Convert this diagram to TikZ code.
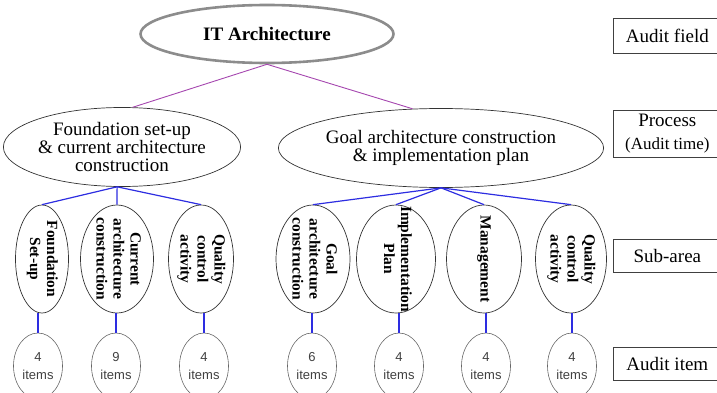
\documentclass[tikz,border=0pt]{standalone}
\usepackage{fontspec}
\setmainfont{Liberation Serif}
\newfontfamily\itemfont{Liberation Sans}
\usepackage{graphicx}
\usetikzlibrary{shapes.geometric}

\definecolor{linkpurple}{RGB}{165,70,175}
\definecolor{linkblue}{RGB}{45,45,225}

% rotated bold text for the sub-area ellipses
\newcommand{\vtext}[1]{\rotatebox{-90}{\fontsize{15.5}{17}\selectfont\bfseries
  \begin{tabular}{@{}c@{}}#1\end{tabular}}}

\tikzset{
  field/.style={ellipse, draw=black!45, line width=2.6pt, minimum width=253pt,
    minimum height=58pt, inner sep=0pt, font=\fontsize{19}{20}\selectfont\bfseries},
  process/.style={ellipse, draw=black!80, line width=0.7pt, minimum height=79pt,
    inner sep=0pt, align=center, font=\fontsize{19}{18}\selectfont},
  subarea/.style={ellipse, draw=black!80, line width=0.7pt, minimum height=108pt,
    inner sep=0pt},
  itembox/.style={ellipse, draw=black!60, line width=0.6pt, minimum width=49pt,
    minimum height=66pt, inner sep=0pt, align=center, text=black!75,
    font=\itemfont\fontsize{13}{17.5}\selectfont},
  legend/.style={draw=black!75, line width=0.7pt, minimum width=108pt, anchor=west,
    align=center, inner sep=0pt, font=\fontsize{19}{20}\selectfont},
  toplink/.style={linkpurple, line width=0.9pt},
  sublink/.style={linkblue, line width=1.2pt},
}

\begin{document}
\begin{tikzpicture}[x=1pt,y=-1pt]
  \useasboundingbox (0,0) rectangle (717,393);

  % audit field and processes
  \node[field] (it) at (267,34) {IT Architecture};
  \node[process, minimum width=230pt] (found) at (122,147)
    {Foundation set-up\\\& current architecture\\construction};
  \node[process, minimum width=307pt] (goal) at (441,148)
    {Goal architecture construction\\\& implementation plan};

  % sub-areas
  \node[subarea, minimum width=53pt, label={center:\vtext{Foundation\\Set-up}}] (fsetup) at (42,259) {};
  \node[subarea, minimum width=73pt, label={center:\vtext{Current\\architecture\\construction}}] (curarch) at (117,259) {};
  \node[subarea, minimum width=65pt, label={center:\vtext{Quality\\control\\activity}}] (qcfound) at (201,259) {};
  \node[subarea, minimum width=74pt, label={center:\vtext{Goal\\architecture\\construction}}] (goalarch) at (313,259) {};
  \node[subarea, minimum width=79pt, label={center:\vtext{Implementation\\Plan}}] (implan) at (396,259) {};
  \node[subarea, minimum width=75pt, label={center:\vtext{Management}}] (mgmt) at (484,259) {};
  \node[subarea, minimum width=71pt, label={center:\vtext{Quality\\control\\activity}}] (qcgoal) at (571,259) {};

  % audit items
  \node[itembox] (fsetupitems) at (38,366) {4\\items};
  \node[itembox] (curarchitems) at (116,366) {9\\items};
  \node[itembox] (qcfounditems) at (204,366) {4\\items};
  \node[itembox] (goalarchitems) at (312,366) {6\\items};
  \node[itembox] (implanitems) at (399,366) {4\\items};
  \node[itembox] (mgmtitems) at (486,366) {4\\items};
  \node[itembox] (qcgoalitems) at (572,366) {4\\items};

  % legend on the right
  \node[legend, minimum height=35pt] (lfield) at (613,35.5) {Audit field};
  \node[legend, minimum height=47pt] (lprocess) at (613,133.5)
    {Process\\[3pt]{\fontsize{17}{18}\selectfont(Audit time)}};
  \node[legend, minimum height=33pt] (lsubarea) at (613,255.5) {Sub-area};
  \node[legend, minimum height=33pt] (litem) at (613,363.5) {Audit item};

  % links
  \draw[toplink] (it.south) -- (found.75);
  \draw[toplink] (it.south) -- (goal.126);

  \draw[sublink] (found.-97) -- (fsetup.north);
  \draw[sublink] (found.-97) -- (curarch.north);
  \draw[sublink] (found.-97) -- (qcfound.north);
  \draw[sublink] (goal.south) -- (goalarch.north);
  \draw[sublink] (goal.south) -- (implan.north);
  \draw[sublink] (goal.south) -- (mgmt.north);
  \draw[sublink] (goal.south) -- (qcgoal.north);

  \draw[sublink] (fsetupitems.north) -- (fsetupitems.north |- fsetup.south);
  \draw[sublink] (curarchitems.north) -- (curarchitems.north |- curarch.south);
  \draw[sublink] (qcfounditems.north) -- (qcfounditems.north |- qcfound.south);
  \draw[sublink] (goalarchitems.north) -- (goalarchitems.north |- goalarch.south);
  \draw[sublink] (implanitems.north) -- (implanitems.north |- implan.south);
  \draw[sublink] (mgmtitems.north) -- (mgmtitems.north |- mgmt.south);
  \draw[sublink] (qcgoalitems.north) -- (qcgoalitems.north |- qcgoal.south);
\end{tikzpicture}
\end{document}
